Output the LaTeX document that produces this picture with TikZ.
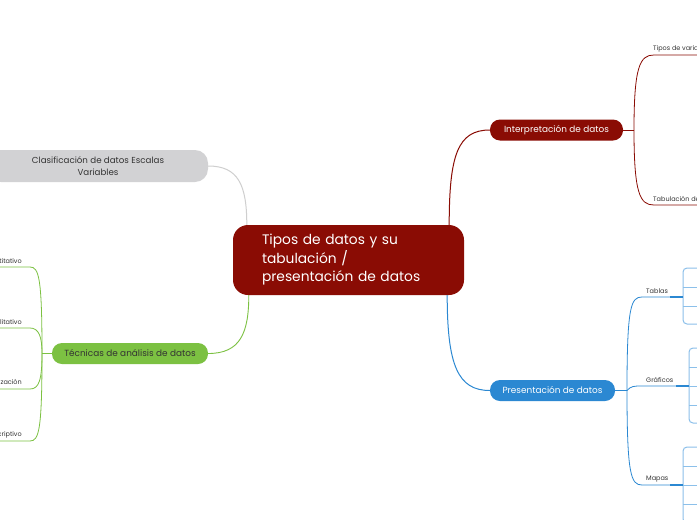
\documentclass[tikz,border=0pt]{standalone}
\usepackage{fontspec}
\setmainfont{Poppins}
\definecolor{darkred}{HTML}{8A0C04}
\definecolor{mblue}{HTML}{2B88D2}
\definecolor{lblue}{HTML}{8CC0EA}
\definecolor{mgreen}{HTML}{7CC142}
\definecolor{mgray}{HTML}{D2D2D4}
\definecolor{lgray}{HTML}{CFCFCF}
\definecolor{labelgray}{HTML}{333333}
\begin{document}
\begin{tikzpicture}[x=1pt,y=-1pt,
  pill/.style={rounded corners=10pt, minimum height=21pt, inner sep=0pt, font=\fontsize{8.9}{10}\selectfont, text=white},
  lbl/.style={font=\fontsize{6.5}{7.5}\selectfont, text=labelgray, inner sep=0pt},
  redline/.style={draw=darkred, line width=1pt},
  blueline/.style={draw=mblue, line width=1pt},
  subblue/.style={draw=lblue, line width=1pt, rounded corners=4pt},
  greenline/.style={draw=mgreen, line width=0.9pt},
  grayline/.style={draw=lgray, line width=1pt}]
\useasboundingbox (0,0) rectangle (697,520);
\fill[white] (0,0) rectangle (697,520);
\clip (0,0) rectangle (697,520);

% central node
\node[fill=darkred, rounded corners=15pt, minimum width=231pt, minimum height=70pt,
      text width=173pt, inner xsep=29pt, inner ysep=0pt, align=left, text=white,
      font=\fontsize{13.8}{18.5}\selectfont] (root) at (348.5,260)
  {Tipos de datos y su\\ tabulación /\\ presentación de datos};

% main branches
\node[pill, fill=darkred, minimum width=133pt] (interp) at (556.5,130) {Interpretación de datos};
\node[pill, fill=mblue, minimum width=125pt] (pres) at (552.5,390.5) {Presentación de datos};
\node[pill, fill=mgreen, minimum width=156pt, text=labelgray] (tec) at (130,353.5) {Técnicas de análisis de datos};
\node[pill, fill=mgray, rounded corners=13pt, minimum width=220pt, minimum height=32pt, text=labelgray,
      align=center, font=\fontsize{8.7}{12}\selectfont] (clas) at (98,166) {Clasificación de datos Escalas\\Variables};

% connectors from root
\draw[redline] ([xshift=-15pt]root.north east) .. controls +(0,-70) and +(-32,0) .. (interp.west);
\draw[blueline] ([xshift=-17pt]root.south east) .. controls +(0,70) and +(-32,0) .. (pres.west);
\draw[grayline] (clas.east) .. controls +(30,0) and +(0,-40) .. ([xshift=14pt]root.north west);
\draw[greenline] (tec.east) .. controls +(32,0) and +(0,38) .. ([xshift=16pt]root.south west);

% Interpretacion bracket
\coordinate (ib) at (634,130);
\coordinate (i1) at (654,55);
\coordinate (i2) at (654,205);
\coordinate (i1e) at (700,55);
\coordinate (i2e) at (700,205);
\draw[redline, line width=0.8pt] (interp.east) -- (ib);
\draw[redline, line width=0.8pt] (ib) .. controls (634,66) and (640,55) .. (i1) -- (i1e);
\draw[redline, line width=0.8pt] (ib) .. controls (634,194) and (640,205) .. (i2) -- (i2e);
\node[lbl, anchor=south west] (tv) at (653,52) {Tipos de variables};
\node[lbl, anchor=south west] (tdd) at (653,202) {Tabulación de datos};

% Presentacion bracket
\coordinate (pb) at (627,390.5);
\coordinate (tb) at (683,297);
\coordinate (gb) at (689,386);
\coordinate (mb) at (683,485);
\draw[blueline, line width=0.8pt] (pres.east) -- (pb);
\draw[blueline, line width=0.8pt] (pb) .. controls (627,306) and (631,297) .. (642,297) -- (tb);
\draw[blueline, line width=0.8pt] (pb) .. controls (631,386) and (634,386) .. (642,386) -- (gb);
\draw[blueline, line width=0.8pt] (pb) .. controls (627,475) and (631,485) .. (642,485) -- (mb);
\node[lbl, anchor=south west] (tab) at (646,294) {Tablas};
\node[lbl, anchor=south west] (gra) at (646,383) {Gráficos};
\node[lbl, anchor=south west] (map) at (646,482) {Mapas};

% sub brackets
\coordinate (t1) at (700,268); \coordinate (t2) at (700,287);
\coordinate (t3) at (700,306); \coordinate (t4) at (700,324);
\draw[subblue] (t1) -| (683,324) -- (t4);
\draw[subblue] (683,287) -- (t2);
\draw[subblue] (683,306) -- (t3);

\coordinate (g1) at (700,348); \coordinate (g2) at (700,367);
\coordinate (g3) at (700,386); \coordinate (g4) at (700,405); \coordinate (g5) at (700,423);
\draw[subblue] (g1) -| (689,423) -- (g5);
\draw[subblue] (689,367) -- (g2);
\draw[subblue] (689,386) -- (g3);
\draw[subblue] (689,405) -- (g4);

\coordinate (m1) at (700,447); \coordinate (m2) at (700,466);
\coordinate (m3) at (700,485); \coordinate (m4) at (700,504); \coordinate (m5) at (700,523);
\draw[subblue] (m1) -| (683,523) -- (m5);
\draw[subblue] (683,466) -- (m2);
\draw[subblue] (683,485) -- (m3);
\draw[subblue] (683,504) -- (m4);

\draw[blueline, line width=1.1pt] (670,297) -- (tb);
\draw[blueline, line width=1.1pt] (676,386) -- (gb);
\draw[blueline, line width=1.1pt] (670,485) -- (mb);

% Tecnicas bracket
\coordinate (lb) at (42,353.5);
\coordinate (l1) at (-2,267);
\coordinate (l2) at (-2,328);
\coordinate (l3) at (-2,389);
\coordinate (l4) at (-2,441);
\draw[greenline, line width=0.8pt] (tec.west) -- (lb);
\draw[greenline, line width=0.8pt] (lb) .. controls (42,278) and (39,267) .. (30,267) -- (l1);
\draw[greenline, line width=0.8pt] (lb) .. controls (42,337) and (39,328) .. (30,328) -- (l2);
\draw[greenline, line width=0.8pt] (lb) .. controls (42,380) and (39,389) .. (30,389) -- (l3);
\draw[greenline, line width=0.8pt] (lb) .. controls (42,430) and (39,441) .. (30,441) -- (l4);
\node[lbl, anchor=south east] (cuan) at (22,264) {Cuantitativo};
\node[lbl, anchor=south east] (cual) at (22,325) {Cualitativo};
\node[lbl, anchor=south east] (cat) at (22,386) {Categorización};
\node[lbl, anchor=south east] (desc) at (22,438) {Descriptivo};
\end{tikzpicture}
\end{document}
